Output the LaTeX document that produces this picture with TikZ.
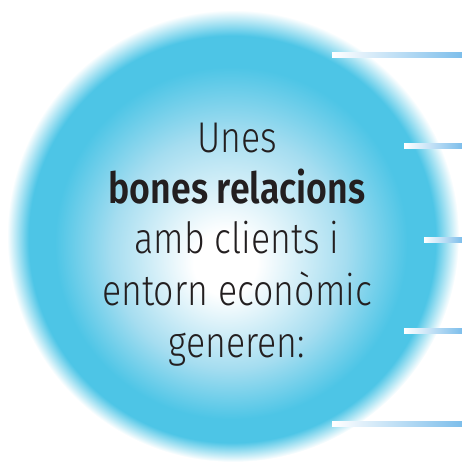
\documentclass[tikz,border=0pt]{standalone}
\usepackage{fontspec}
\setmainfont{Fira Sans Light}[BoldFont={Fira Sans SemiBold}, FakeStretch=0.83]
\definecolor{bubblecyan}{RGB}{77,197,230}
\definecolor{bubblelight}{RGB}{165,221,240}
\definecolor{barblue}{RGB}{125,190,235}
\definecolor{inkgray}{RGB}{35,31,32}
\pgfdeclareradialshading{bubble}{\pgfpoint{-1bp}{-3.5bp}}{color(0bp)=(white); color(3.5bp)=(white); color(13bp)=(bubblelight); color(19.5bp)=(bubblecyan); color(22.5bp)=(bubblecyan); color(25bp)=(white)}
\newcommand\bx{462}
\newcommand\cx{237}

\begin{document}
\begin{tikzpicture}[x=1pt,y=1pt, textline/.style={font=\fontsize{43}{48}\selectfont, text=inkgray, anchor=base, inner sep=0pt}]
\useasboundingbox (0,0) rectangle (462,461);
    %shaded bubble
    \shade[shading=bubble] (233,225) circle (226);

    %text lines
    \node at (\cx,308) [textline] (l1) {Unes};
    \node at (\cx,258) [textline] (l2) {\bfseries bones relacions};
    \node at (\cx,208) [textline] (l3) {amb clients i};
    \node at (\cx,156) [textline] (l4) {entorn econòmic};
    \node at (\cx,104) [textline] (l5) {generen:};

    %bars on the right
    \foreach \xs/\yb in {332/406, 404/315, 424/221, 404/130, 332/37}
      \shade[left color=white, right color=barblue] (\xs,\yb-2.5) rectangle (\bx,\yb+2.5);
\end{tikzpicture}
\end{document}
